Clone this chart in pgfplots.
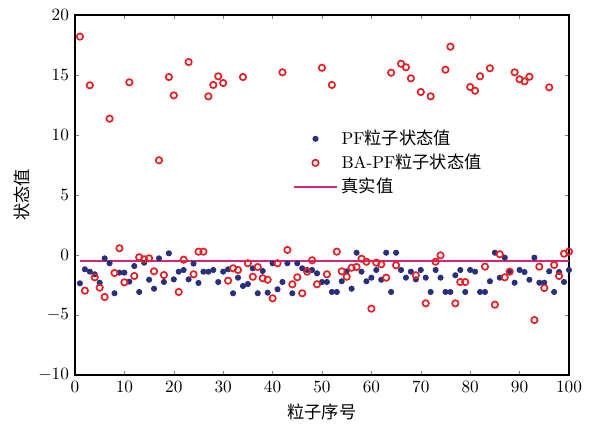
\documentclass[border=0pt]{standalone}
\usepackage{fontspec}
\usepackage{pgfplots}
\usepackage{pgfplotstable}
\pgfplotsset{compat=1.18}
\newfontfamily\cjk{Noto Sans CJK SC}
\definecolor{pfblue}{RGB}{40,48,125}
\definecolor{bared}{RGB}{225,35,40}
\definecolor{truemag}{RGB}{214,36,128}

% particle index, PF state, BA-PF state
\pgfplotstableread{
i pf ba
1 -2.36 18.20
2 -1.19 -2.97
3 -1.39 14.14
4 -1.61 -1.86
5 -2.31 -2.72
6 -0.28 -3.50
7 -0.69 11.36
8 -3.19 -1.50
9 -1.47 0.56
10 -1.47 -2.28
11 -2.22 14.39
12 -0.92 -1.75
13 -3.08 -0.19
14 -0.64 -0.36
15 -2.06 -0.28
16 -2.81 -1.36
17 -0.28 7.89
18 -2.25 -1.67
19 0.14 14.83
20 -2.03 13.30
21 -1.39 -3.08
22 -1.25 -0.39
23 -2.03 16.08
24 -0.72 -1.61
25 -2.33 0.28
26 -1.39 0.28
27 -1.39 13.22
28 -1.25 14.17
29 -2.25 14.89
30 -1.39 14.33
31 -1.19 -2.14
32 -3.19 -1.11
33 -1.89 -1.25
34 -2.58 14.83
35 -2.42 -0.69
36 -1.11 -1.81
37 -3.19 -1.00
38 -1.33 -1.94
39 -3.14 -2.06
40 -0.69 -3.61
41 -2.86 -0.69
42 -2.25 15.22
43 -0.69 0.42
44 -3.19 -2.44
45 -0.69 -1.86
46 -1.11 -3.19
47 -1.25 -1.39
48 -1.25 -0.44
49 -1.53 -2.44
50 -2.25 15.60
51 -2.25 -1.61
52 -3.08 14.17
53 -3.08 0.28
54 -2.19 -1.36
55 -1.36 -1.81
56 -2.81 -1.06
57 0.19 -1.00
58 -1.39 -0.31
59 -2.19 -0.56
60 -1.89 -4.47
61 -1.25 -0.64
62 -2.06 -0.78
63 0.19 -1.89
64 -3.08 15.19
65 0.19 -0.86
66 -1.25 15.94
67 -1.89 15.64
68 -1.39 14.72
69 -2.03 -1.69
70 -1.25 13.58
71 -1.89 -4.03
72 -3.08 13.22
73 -1.25 -0.56
74 -1.89 -0.03
75 -3.08 15.44
76 -3.08 17.36
77 -1.69 -4.03
78 -1.25 -2.25
79 -3.08 -2.25
80 -1.25 14.00
81 -1.39 13.69
82 -3.08 14.89
83 -3.08 -0.97
84 -2.19 15.56
85 0.19 -4.14
86 -1.89 0.06
87 -0.22 -1.86
88 -1.36 -1.39
89 -2.31 15.22
90 -1.25 14.64
91 -1.42 14.47
92 -2.06 14.86
93 -0.22 -5.42
94 -2.31 -0.97
95 -2.31 -2.75
96 -1.36 13.97
97 -3.08 -0.83
98 -1.42 -1.75
99 -2.25 0.11
100 -1.25 0.28
}\particles

\begin{document}
\begin{tikzpicture}
\begin{axis}[
    scale only axis,
    width=286.5pt, height=208.8pt,
    xmin=0, xmax=100,
    ymin=-10, ymax=20,
    xtick={0,10,...,100},
    ytick={-10,-5,...,20},
    major tick length=2.5pt,
    axis line style={line width=0.8pt},
    xlabel={\cjk 粒子序号},
    ylabel={\cjk 状态值},
    ylabel style={yshift=-2pt},
    legend style={at={(rel axis cs:0.43,0.70)}, anchor=north west,
        draw=none, fill=none, cells={anchor=west}, row sep=0pt},
    legend image code/.code={\draw[mark repeat=2,mark phase=2,#1]
        plot coordinates {(0pt,0pt) (12.5pt,0pt) (25pt,0pt)};},
]
\addplot[only marks, mark=*, mark size=1.55pt, color=pfblue]
    table[x=i, y=pf]{\particles};
\addlegendentry{PF{\cjk 粒子状态值}}

\addplot[only marks, mark=o, mark size=1.85pt, line width=1pt, color=bared]
    table[x=i, y=ba]{\particles};
\addlegendentry{BA-PF{\cjk 粒子状态值}}

\addplot[truemag, line width=1.2pt] coordinates {(1,-0.5) (100,-0.5)};
\addlegendentry{{\cjk 真实值}}
\end{axis}
\pgfresetboundingbox
\path[use as bounding box] ([shift={(-43.5pt,-30.7pt)}]current axis.south west)
    rectangle ([shift={(18pt,8.7pt)}]current axis.north east);
\end{tikzpicture}
\end{document}
